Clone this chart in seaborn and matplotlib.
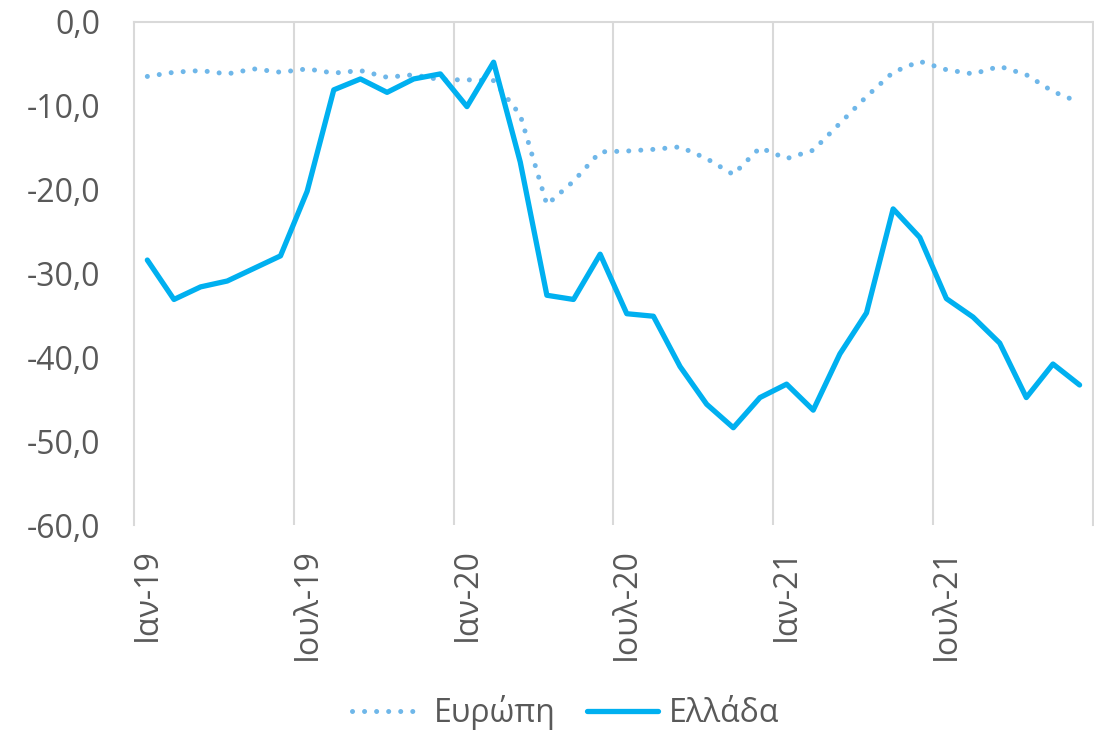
import numpy as np
import pandas as pd
import matplotlib
matplotlib.use("Agg")
import matplotlib.pyplot as plt
import seaborn as sns
from matplotlib.ticker import FixedLocator, FuncFormatter
from matplotlib.lines import Line2D

# ---- data ----
months = [f"{m}-{y}" for y in ["19", "20", "21"]
          for m in ["Ιαν", "Φεβ", "Μαρ", "Απρ", "Μαϊ", "Ιουν",
                    "Ιουλ", "Αυγ", "Σεπ", "Οκτ", "Νοε", "Δεκ"]]
europe = [-6.5, -6.0, -5.8, -6.2, -5.6, -6.0, -5.6, -6.1, -5.8, -6.6, -6.3, -6.9,
          -6.9, -7.0, -11.1, -21.8, -19.0, -15.5, -15.4, -15.2, -14.9, -16.3, -18.2, -15.0,
          -16.3, -15.3, -12.1, -8.9, -6.0, -4.7, -5.7, -6.2, -5.3, -6.3, -8.3, -9.6]
greece = [-28.4, -33.1, -31.6, -30.9, -29.4, -27.9, -20.2, -8.1, -6.8, -8.4, -6.8, -6.2,
          -10.1, -4.8, -16.7, -32.6, -33.1, -27.7, -34.8, -35.1, -41.1, -45.6, -48.4, -44.8,
          -43.2, -46.3, -39.6, -34.7, -22.3, -25.7, -33.0, -35.2, -38.3, -44.8, -40.8, -43.3]
label_europe = "Ευρώπη"
label_greece = "Ελλάδα"
tick_labels = ["Ιαν-19", "Ιουλ-19", "Ιαν-20", "Ιουλ-20", "Ιαν-21", "Ιουλ-21"]
y_ticks = [0, -10, -20, -30, -40, -50, -60]

df = pd.DataFrame({"idx": np.arange(len(months)), "month": months,
                   "europe": europe, "greece": greece})

sns.set_style("white")
plt.rcParams["font.family"] = ["Open Sans", "DejaVu Sans"]

TXT = "#595959"
GRID = "#d9d9d9"
C_EU = "#6FB7E9"
C_GR = "#00B0F0"
FS = 23

fig = plt.figure(figsize=(10.94, 7.31), dpi=100)
ax = fig.add_axes([0.1225, 0.2818, 0.8765, 0.6882])

sns.lineplot(data=df, x="idx", y="europe", ax=ax, color=C_EU, lw=3.6, legend=False)
sns.lineplot(data=df, x="idx", y="greece", ax=ax, color=C_GR, lw=3.8, legend=False)
l_eu, l_gr = ax.lines[0], ax.lines[1]
l_eu.set_linestyle((0, (0.01, 2.4)))
l_eu.set_dash_capstyle("round")
l_gr.set_solid_joinstyle("round")
l_gr.set_solid_capstyle("round")

n = len(months)
ax.set_xlim(-0.5, n - 0.5)
ax.set_ylim(-60, 0)

ax.xaxis.set_major_locator(FixedLocator(np.arange(0, n, 6)))
ax.set_xticklabels(tick_labels, rotation=90, fontsize=FS, color=TXT, va="top", ha="center")
ax.xaxis.set_minor_locator(FixedLocator(np.arange(5.5, n - 1, 6)))
ax.grid(False)
ax.grid(True, which="minor", axis="x", color=GRID, lw=1.5)
ax.tick_params(axis="x", which="both", length=0, pad=17)

ax.set_yticks(y_ticks)
ax.yaxis.set_major_formatter(FuncFormatter(lambda v, p: f"{v:.1f}".replace(".", ",")))
ax.tick_params(axis="y", length=0, pad=24, labelsize=FS, labelcolor=TXT)

for s in ["top", "left", "right"]:
    ax.spines[s].set_visible(True)
    ax.spines[s].set_color(GRID)
    ax.spines[s].set_linewidth(1.5)
ax.spines["bottom"].set_visible(False)

ax.set_xlabel("")
ax.set_ylabel("")

handles = [Line2D([], [], color=C_EU, lw=3.6, linestyle=(0, (0.01, 2.4)), dash_capstyle="round"),
           Line2D([], [], color=C_GR, lw=3.8, solid_capstyle="round")]
leg = fig.legend(handles, [label_europe, label_greece], loc="center",
                 bbox_to_anchor=(0.517, 0.025), ncol=2, frameon=False,
                 fontsize=FS, handlelength=2.2, columnspacing=1.0, handletextpad=0.35)
for t in leg.get_texts():
    t.set_color(TXT)

fig.savefig("out.png", dpi=100)
